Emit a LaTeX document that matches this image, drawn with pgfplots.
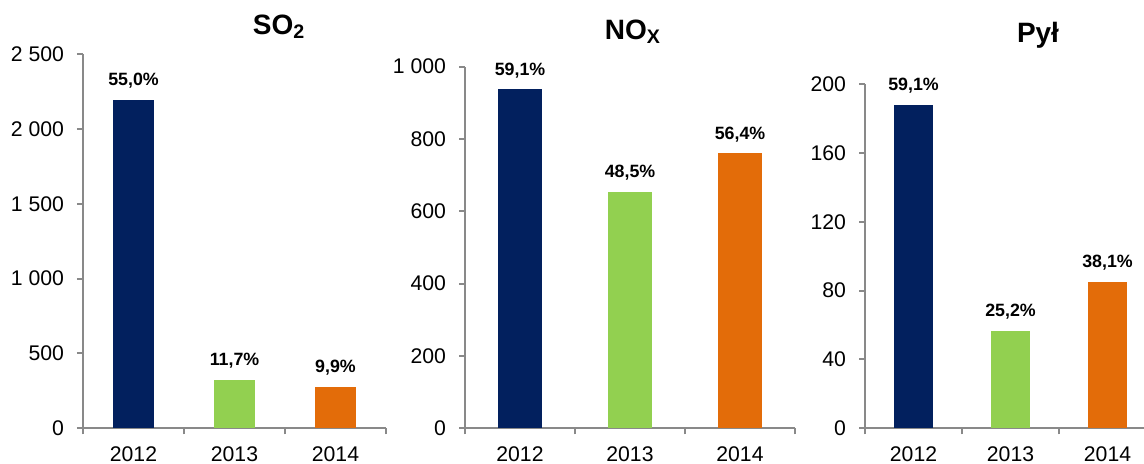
\documentclass[border=0pt]{standalone}
\usepackage{pgfplots}
\pgfplotsset{compat=1.18}
\usepackage{fontspec}
\setmainfont{Liberation Sans}
\definecolor{navy}{RGB}{2,32,94}
\definecolor{lgreen}{RGB}{146,208,80}
\definecolor{orng}{RGB}{227,108,9}
\definecolor{axgray}{RGB}{137,137,137}
\pgfplotsset{
  panel/.style={
    scale only axis,
    axis lines*=left,
    xmin=-0.5, xmax=2.5, ymin=0,
    xtick={0,1,2}, xticklabels={2012,2013,2014},
    minor xtick={-0.5,0.5,1.5,2.5},
    every major x tick/.append style={draw=none},
    major tick length=3pt, minor tick length=3pt,
    tick align=outside,
    axis line style={axgray, line width=1pt},
    tick style={axgray, line width=1pt},
    /pgf/number format/assume math mode=true,
    ticklabel style={font=\fontsize{10.6}{12}\selectfont, text=black},
    yticklabel style={xshift=-3pt},
    xticklabel style={yshift=-2.5pt},
    ybar, bar shift=0pt,
    clip=false,
    nodes near coords,
    point meta=explicit symbolic,
    every node near coord/.append style={font=\bfseries\fontsize{8.9}{10}\selectfont, text=black, anchor=base, yshift=7.2pt, inner sep=0pt},
  },
}
\begin{document}
\begin{tikzpicture}
\useasboundingbox (0,0) rectangle (572pt,232pt);
% SO2
\begin{axis}[panel, at={(41.5pt,17.85pt)}, anchor=south west,
  width=151.5pt, height=187.15pt, ymax=2500,
  ytick={0,500,1000,1500,2000,2500},
  yticklabels={0,500,1 000,1 500,2 000,2 500},
  bar width=20.5pt]
\addplot[fill=navy, draw=none] coordinates {(0,2193) [55,0\%]};
\addplot[fill=lgreen, draw=none] coordinates {(1,323) [11,7\%]};
\addplot[fill=orng, draw=none] coordinates {(2,274) [9,9\%]};
\end{axis}
% NOx
\begin{axis}[panel, at={(232.5pt,17.85pt)}, anchor=south west,
  width=165pt, height=180.8pt, ymax=1000,
  ytick={0,200,400,600,800,1000},
  yticklabels={0,200,400,600,800,1 000},
  bar width=22pt]
\addplot[fill=navy, draw=none] coordinates {(0,937) [59,1\%]};
\addplot[fill=lgreen, draw=none] coordinates {(1,653) [48,5\%]};
\addplot[fill=orng, draw=none] coordinates {(2,760) [56,4\%]};
\end{axis}
% Pyl
\begin{axis}[panel, at={(432.5pt,17.85pt)}, anchor=south west,
  width=145.5pt, height=172.15pt, ymax=200,
  ytick={0,40,80,120,160,200},
  yticklabels={0,40,80,120,160,200},
  bar width=19.5pt]
\addplot[fill=navy, draw=none] coordinates {(0,188) [59,1\%]};
\addplot[fill=lgreen, draw=none] coordinates {(1,56.3) [25,2\%]};
\addplot[fill=orng, draw=none] coordinates {(2,85) [38,1\%]};
\end{axis}
\node[font=\bfseries\fontsize{14}{16}\selectfont] at (139.5pt,218.5pt) {SO\textsubscript{2}};
\node[font=\bfseries\fontsize{14}{16}\selectfont] at (316.5pt,216pt) {NO\textsubscript{X}};
\node[font=\bfseries\fontsize{14}{16}\selectfont] at (519pt,214.5pt) {Pył};
\end{tikzpicture}
\end{document}
